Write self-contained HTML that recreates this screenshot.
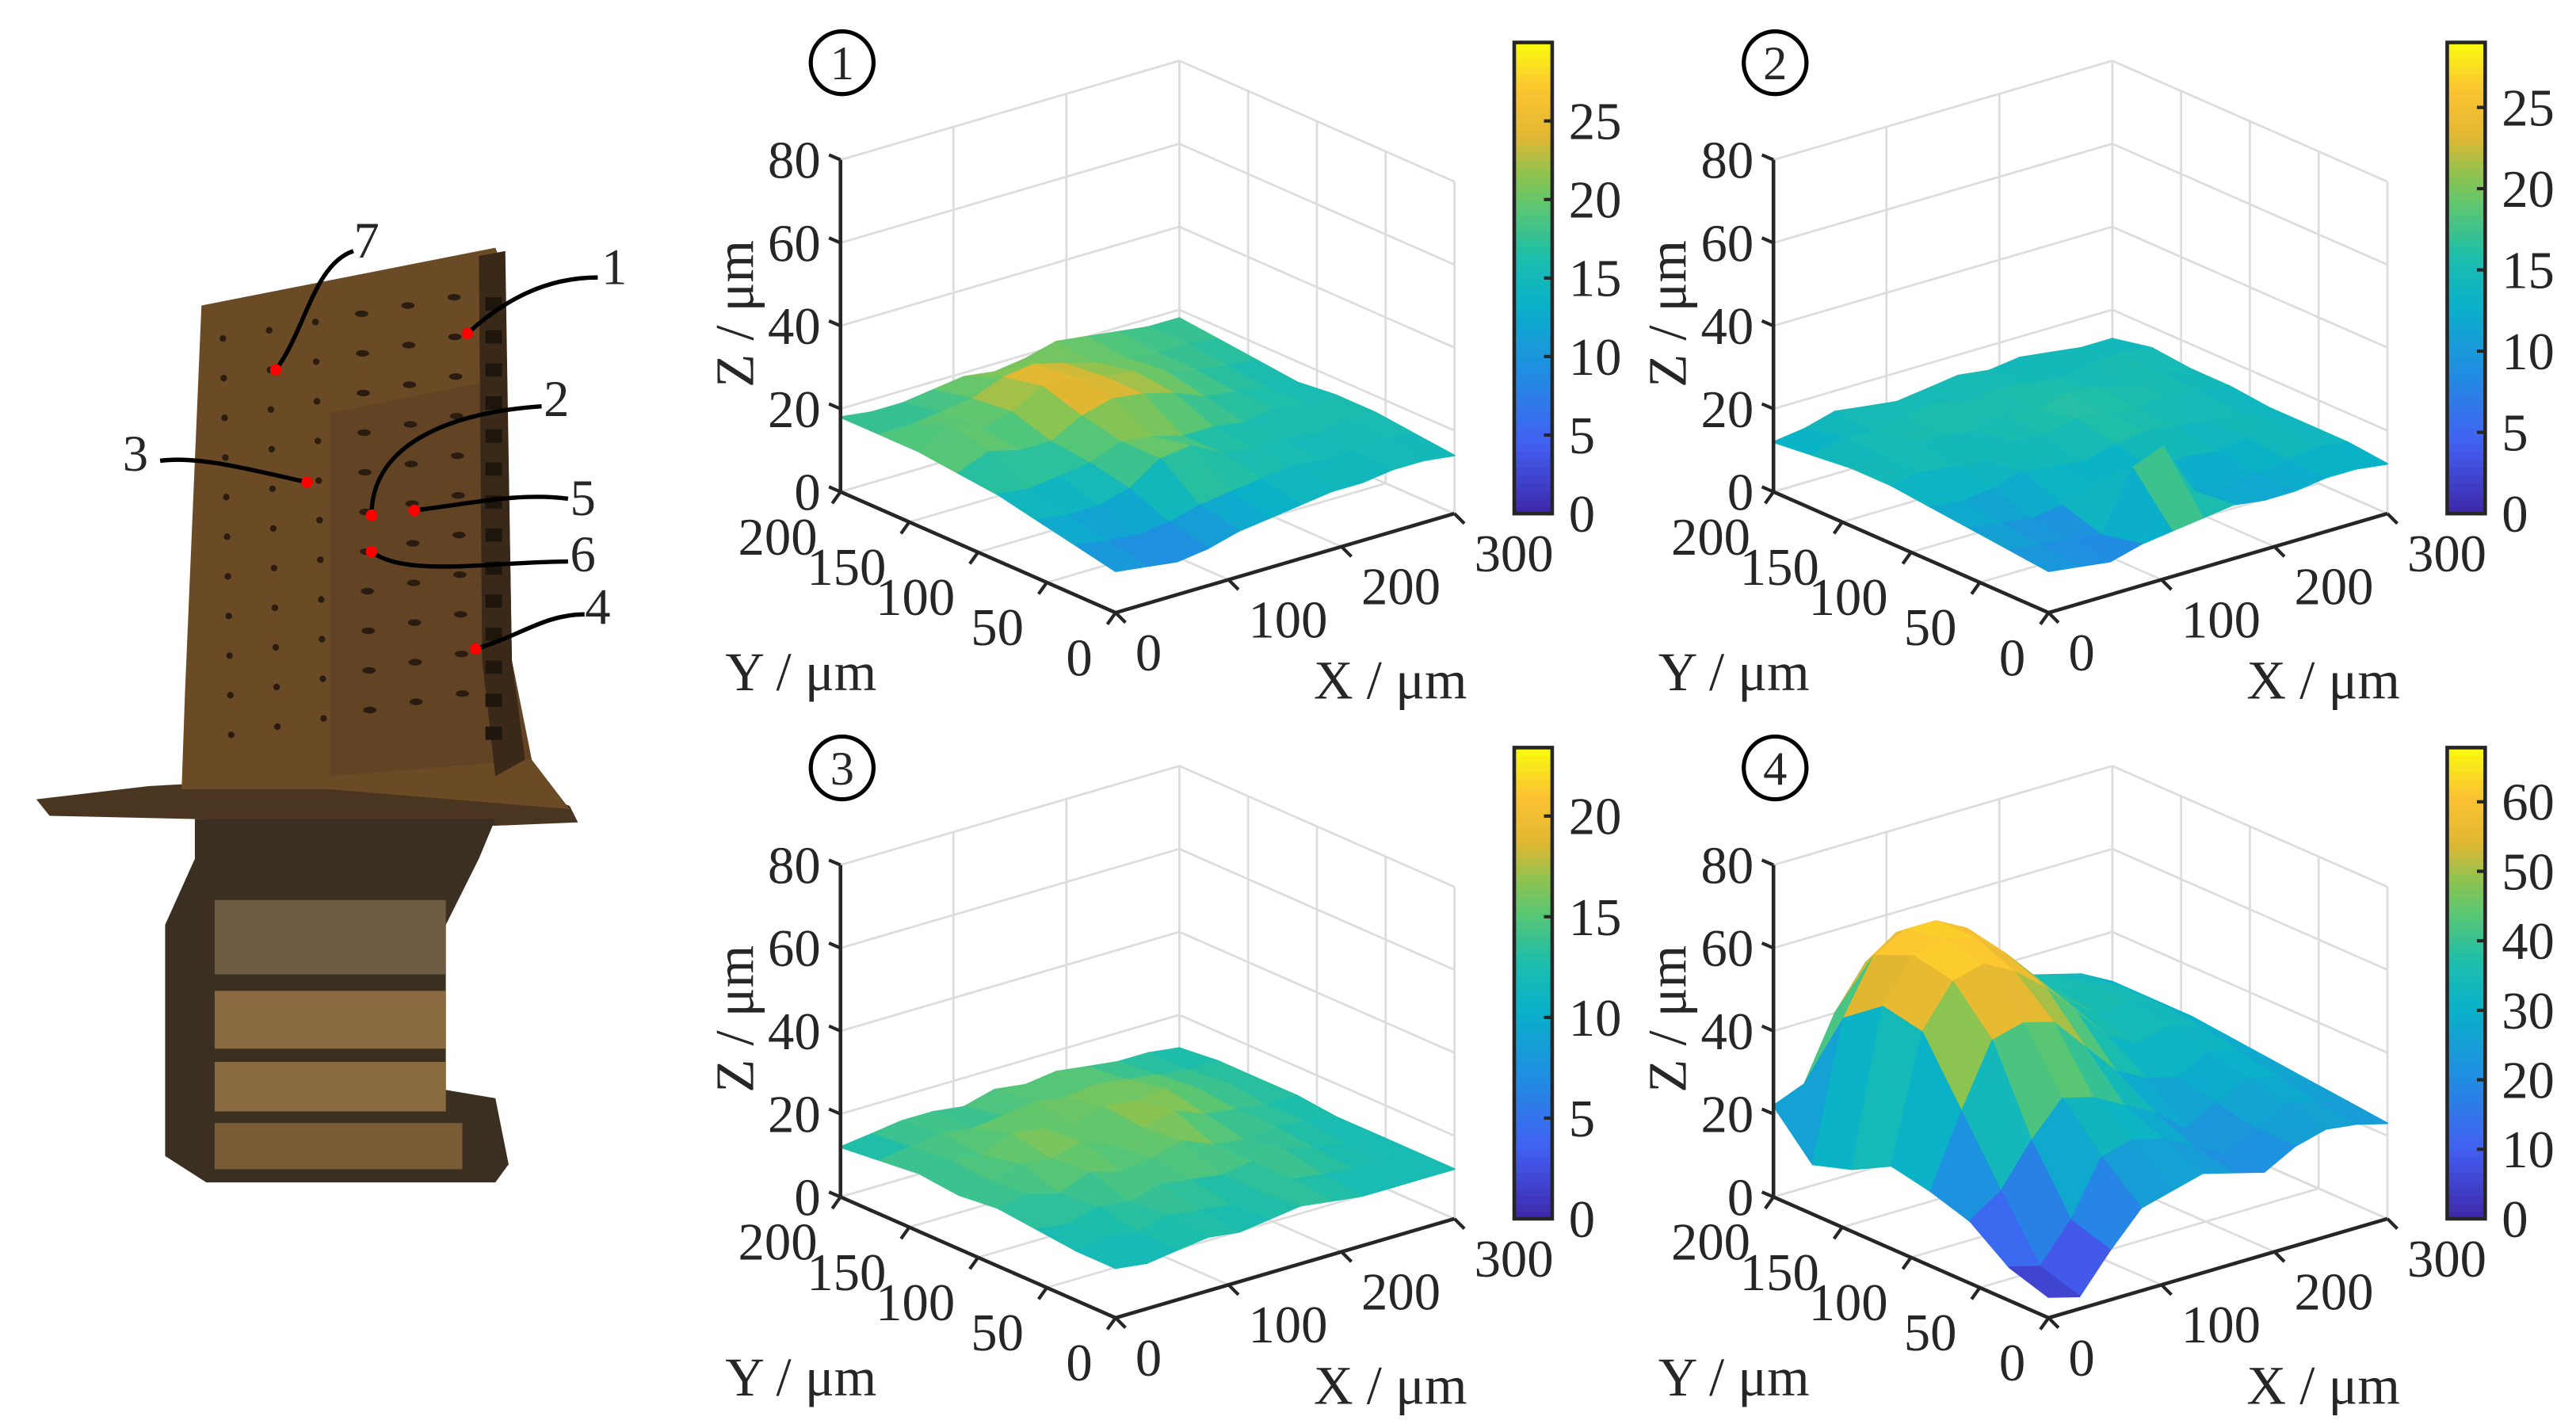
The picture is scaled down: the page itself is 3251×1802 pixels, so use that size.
<!DOCTYPE html>
<html><head><meta charset="utf-8"><style>
html,body{margin:0;padding:0;background:#fff}
svg{display:block}
text{font-family:"Liberation Serif",serif;fill:#262626}
</style></head><body>
<svg id="fig" xmlns="http://www.w3.org/2000/svg" width="3251" height="1802" viewBox="0 0 1560 864.7" preserveAspectRatio="none">
<g id="blade">
  <polygon points="22,484 90,476 200,470 300,470 345,488 350,498 300,500 30,494" fill="#4a3520"/>
  <polygon points="118,496 300,496 290,520 270,560 270,660 300,665 308,705 300,716 125,716 100,700 100,560 118,520" fill="#3b2f22"/>
  <rect x="130" y="545" width="140" height="45" fill="#6e5c44"/>
  <rect x="130" y="600" width="140" height="35" fill="#8a6a40"/>
  <rect x="130" y="643" width="140" height="30" fill="#8a6a40"/>
  <rect x="130" y="680" width="150" height="28" fill="#7a5c36"/>
  <polygon points="122,185 300,150 306,165 310,400 322,460 345,490 200,478 110,478 112,420" fill="#6b4a26"/>
  <polygon points="200,250 300,230 310,400 322,460 200,470" fill="#5c3f22" opacity="0.6"/>
  <polygon points="290,155 306,152 310,400 318,460 300,470 292,400" fill="#3a2818"/>
  <g id="holes"></g>
</g>
<g id="labels"></g>
<g id="panels"></g>
</svg>
<script>
// ---------- data ----------
const xTicks = [0, 100, 200, 300];
const yTicks = [0, 50, 100, 150, 200];
const zTicks = [0, 20, 40, 60, 80];
const cbTicks1 = [0, 5, 10, 15, 20, 25];
const cbTicks2 = [0, 5, 10, 15, 20, 25];
const cbTicks3 = [0, 5, 10, 15, 20];
const cbTicks4 = [0, 10, 20, 30, 40, 50, 60];
const cbMax = [30, 29, 23.4, 67.8];
// heights (µm), rows y=0..200, columns x=0..300
const surf1 = [
 [10,9,8,9,11,12,13,14,14,15,15,14],
 [12,11,10,11,13,14,15,16,15,15,16,15],
 [14,13,13,15,20,21,17,16,16,15,16,16],
 [16,15,16,17,20,19,17,17,16,17,16,16],
 [17,20,18,18,22,24,23,21,18,17,16,15],
 [18,22,19,21,25,25,23,22,20,18,17,16],
 [18,18,19,20,23,24,22,20,19,18,18,17],
 [18,17,17,18,19,18,19,21,20,19,18,18]];
const surf2 = [
 [10,9,8,10,11,12,13,12,12,13,13,12],
 [11,10,9,8,22,25,12,11,12,13,14,13],
 [12,11,10,11,14,12,13,14,13,14,16,13],
 [13,12,13,15,14,13,15,16,15,14,14,13],
 [14,15,14,13,16,15,17,16,15,16,15,14],
 [14,15,16,15,14,16,15,17,16,15,15,14],
 [13,15,14,16,17,15,16,15,14,15,16,15],
 [12,13,15,14,13,14,15,14,15,14,13,13]];
const surf3 = [
 [12,11,12,13,12,13,14,13,12,12,12,12],
 [12,13,12,14,13,12,13,14,13,12,13,12],
 [13,12,14,13,15,14,13,14,15,13,12,12],
 [14,15,13,16,14,15,17,14,13,14,13,12],
 [13,14,16,15,17,14,16,18,15,14,13,13],
 [14,15,14,17,16,15,17,16,17,15,14,13],
 [13,14,15,14,15,16,15,16,15,14,13,13],
 [12,13,14,14,13,15,14,15,14,13,13,12]];
const surf4 = [
 [5,3,12,20,22,24,22,20,24,26,25,23],
 [8,6,15,28,30,28,24,20,24,28,26,24],
 [15,20,30,38,36,32,28,22,26,30,28,25],
 [18,35,50,52,50,42,34,30,28,32,30,26],
 [20,50,60,62,58,52,44,36,32,34,32,27],
 [15,52,62,64,62,56,48,40,35,36,33,28],
 [12,45,58,62,62,58,50,42,36,36,33,28],
 [22,25,40,50,55,52,46,40,36,34,32,28]];
const panelNames = ['1','2','3','4'];

const NS = 'http://www.w3.org/2000/svg';
function el(tag, attrs, parent){const e=document.createElementNS(NS,tag);for(const k in attrs)e.setAttribute(k,attrs[k]);parent.appendChild(e);return e;}

const stops=[[0,62,38,168],[0.15,66,96,242],[0.3,33,140,226],[0.45,10,178,200],[0.55,30,190,170],[0.65,90,198,115],[0.72,140,196,80],[0.8,225,183,50],[0.9,252,195,50],[1,249,251,14]];
function cmap(t){t=Math.max(0,Math.min(1,t));for(let i=1;i<stops.length;i++){if(t<=stops[i][0]){const a=stops[i-1],b=stops[i],f=(t-a[0])/(b[0]-a[0]);return 'rgb('+[1,2,3].map(k=>Math.round(a[k]+(b[k]-a[k])*f)).join(',')+')';}}return 'rgb(249,251,14)';}

const holes=document.getElementById('holes');
for(let c=0;c<6;c++){for(let r=0;r<11;r++){const x=135+c*28+r*0.5,y=205-c*5+r*24;if(y>450)continue;
 const h=el('ellipse',{cx:x,cy:y,rx:c>2?4:2,ry:2,fill:'#2a1c10'},holes);
 
 }}
for(let r=0;r<14;r++){const h=el('rect',{x:294,y:180+r*20,width:10,height:8,fill:'#1e150c'},holes);
 
 }

const locs=[['1',283,202,'M283,202 C305,182 330,168 362,168',372,172],['7',167,224,'M167,224 C185,200 190,160 214,152',222,156],
['2',225,312,'M225,312 C225,270 270,250 328,246',337,252],['3',186,292,'M186,292 C150,284 120,276 97,279',82,285],
['5',251,309,'M251,309 C285,305 315,298 344,302',353,312],['6',225,334,'M225,334 C245,350 300,340 344,340',353,346],['4',288,393,'M288,393 C315,385 330,372 354,372',362,378]];
const lg=document.getElementById('labels');
locs.forEach(l=>{
 const p=el('path',{d:l[3],fill:'none',stroke:'#000','stroke-width':2.6},lg);
 
 
 const d=el('circle',{cx:l[1],cy:l[2],r:3.5,fill:'#f00'},lg);
 
 
 const t=el('text',{x:l[4],y:l[5],'font-size':31,'text-anchor':'middle'},lg);t.textContent=l[0];
 
 
});

const surfs=[surf1,surf2,surf3,surf4];
const cbTickSets=[cbTicks1,cbTicks2,cbTicks3,cbTicks4];
const offs=[[0,0],[565,0],[0,427],[565,427]];
const root=document.getElementById('panels');
for(let p=0;p<4;p++){
 const ox=offs[p][0],oy=offs[p][1];
 const g=el('g',{},root);
 
 
 const L=[509+ox,297.8+oy],F=[675.6+ox,371+oy],R=[880.8+ox,311+oy];
 const ex=[(R[0]-F[0])/300,(R[1]-F[1])/300],ey=[(L[0]-F[0])/200,(L[1]-F[1])/200],ez=201/80;
 const P=(x,y,z)=>[F[0]+x*ex[0]+y*ey[0],F[1]+x*ex[1]+y*ey[1]-z*ez];
 const line=(a,b,st,w,name)=>{const e=el('line',{x1:a[0],y1:a[1],x2:b[0],y2:b[1],stroke:st,'stroke-width':w},g);
  
  return e;};
 const gc='#dcdcdc';
 xTicks.forEach(x=>{line(P(x,200,0),P(x,200,80),gc,1.3,'grid-x-wall');line(P(x,0,0),P(x,200,0),gc,1.3,'grid-x-floor');});
 yTicks.forEach(y=>{line(P(300,y,0),P(300,y,80),gc,1.3,'grid-y-wall');line(P(0,y,0),P(300,y,0),gc,1.3,'grid-y-floor');});
 zTicks.forEach(z=>{line(P(0,200,z),P(300,200,z),gc,1.3,'grid-z-wall');line(P(300,200,z),P(300,0,z),gc,1.3,'grid-z-wall');});
 const S=surfs[p],ny=S.length,nx=S[0].length,cells=[];
 const gx=i=>i*300/(nx-1),gy=j=>j*200/(ny-1);
 for(let j=0;j<ny-1;j++)for(let i=0;i<nx-1;i++)cells.push([i,j]);
 const depth=c=>P(gx(c[0]+0.5),gy(c[1]+0.5),0)[1];
 cells.sort((a,b)=>depth(a)-depth(b));
 cells.forEach(([i,j])=>{
  const zs=[S[j][i],S[j][i+1],S[j+1][i+1],S[j+1][i]];
  const pts=[P(gx(i),gy(j),zs[0]),P(gx(i+1),gy(j),zs[1]),P(gx(i+1),gy(j+1),zs[2]),P(gx(i),gy(j+1),zs[3])];
  const avg=(zs[0]+zs[1]+zs[2]+zs[3])/4,col=cmap(avg/cbMax[p]);
  const c=el('polygon',{points:pts.map(q=>q[0].toFixed(1)+','+q[1].toFixed(1)).join(' '),fill:col,stroke:col,'stroke-width':1,'stroke-linejoin':'round'},g);
  
  
 });
 const ac='#262626';
 line(P(0,200,0),P(0,200,80),ac,2.2,'z-axis');
 line(P(0,200,0),P(0,0,0),ac,2.2,'y-axis');
 line(P(0,0,0),P(300,0,0),ac,2.2,'x-axis');
 zTicks.forEach(z=>{const a=P(0,200,z);line(a,[a[0]-7,a[1]-3],ac,2,'z-tick');
  const t=el('text',{x:a[0]-12,y:a[1]+11,'font-size':32,'text-anchor':'end'},g);t.textContent=z;
  
  });
 yTicks.forEach(y=>{const a=P(0,y,0);line(a,[a[0]-5,a[1]+7],ac,2,'y-tick');
  const t=el('text',{x:a[0]-14,y:a[1]+38,'font-size':32,'text-anchor':'end'},g);t.textContent=y;
  
  });
 xTicks.forEach(x=>{const a=P(x,0,0);line(a,[a[0]+6,a[1]+6],ac,2,'x-tick');
  const t=el('text',{x:a[0]+12,y:a[1]+35,'font-size':32,'text-anchor':'start'},g);t.textContent=x;
  
  });
 const zt=el('text',{x:0,y:0,'font-size':33,'text-anchor':'middle',transform:'translate('+(456+ox)+','+(190+oy)+') rotate(-90)'},g);zt.textContent='Z / μm';
 
 
 const yt=el('text',{x:485+ox,y:418+oy,'font-size':33,'text-anchor':'middle'},g);yt.textContent='Y / μm';
 
 
 const xt=el('text',{x:842+ox,y:423+oy,'font-size':33,'text-anchor':'middle'},g);xt.textContent='X / μm';
 
 
 const bc=el('circle',{cx:510+ox,cy:38+oy,r:19,fill:'none',stroke:'#000','stroke-width':2.5},g);
 
 
 const bt=el('text',{x:510+ox,y:48+oy,'font-size':29,'text-anchor':'middle'},g);bt.textContent=panelNames[p];
 
 
 const cx0=917+ox,cw=23,ctop=25.7+oy,cbot=311+oy;
 const cg=el('g',{},g);
 
 
 const N=60;
 for(let k=0;k<N;k++){const y0=cbot-(k+1)*(cbot-ctop)/N;
  const r=el('rect',{x:cx0,y:y0,width:cw,height:(cbot-ctop)/N+0.6,fill:cmap((k+0.5)/N)},cg);
  
  }
 const fr=el('rect',{x:cx0,y:ctop,width:cw,height:cbot-ctop,fill:'none',stroke:ac,'stroke-width':2.2},cg);
 
 
 cbTickSets[p].forEach(v=>{const y=cbot-v/cbMax[p]*(cbot-ctop);
  const tk=el('line',{x1:cx0+cw-5,y1:y,x2:cx0+cw,y2:y,stroke:ac,'stroke-width':2},cg);
  
  
  const t=el('text',{x:cx0+cw+10,y:y+11,'font-size':32},cg);t.textContent=v;
  
  });
}
</script>
</body></html>
